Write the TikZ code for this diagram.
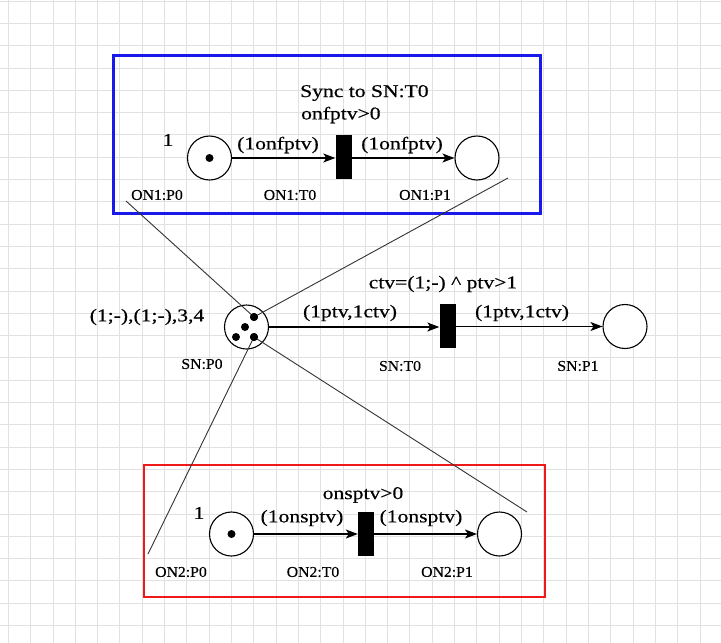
\documentclass[tikz,border=0pt]{standalone}
\usepackage{fontspec}
\setmainfont{Liberation Serif}
\newfontfamily\bigf[FakeStretch=1.2,FakeBold=0.4]{Liberation Serif}
\newfontfamily\smf[FakeStretch=1.05,FakeBold=0.3]{Liberation Serif}
\usetikzlibrary{arrows.meta}
\definecolor{boxblue}{RGB}{25,25,235}
\definecolor{boxred}{RGB}{240,25,25}
\definecolor{gridc}{RGB}{225,225,225}
\tikzset{
  place/.style={circle, draw, line width=1.1pt, minimum size=44pt, inner sep=0pt, fill=white},
  bar/.style={rectangle, fill=black, minimum width=16pt, minimum height=44pt, inner sep=0pt},
  tok/.style={circle, fill=black, minimum size=8pt, inner sep=0pt},
  arc/.style={-{Stealth[length=12pt,width=9pt,inset=3pt]}, line width=1.1pt},
  lbl/.style={font=\bigf\fontsize{18}{20}\selectfont, inner sep=0pt},
  nm/.style={font=\smf\fontsize{15}{17}\selectfont, inner sep=0pt},
  link/.style={line width=0.9pt, draw=black!80},
  gridline/.style={draw=gridc, line width=0.8pt}
}
\begin{document}
\begin{tikzpicture}[x=1pt,y=-1pt]
\useasboundingbox (0,0) rectangle (721,643);
\fill[white] (0,0) rectangle (721,643);
% grid
\foreach \i in {0,...,31} \draw[gridline] ({8.3+22.31*\i},0) -- ++(0,643);
\foreach \j in {0,...,28} \draw[gridline] (0,{1+22.3*\j}) -- ++(721,0);

% boxes
\draw[boxblue, line width=3pt] (113,55) rectangle (540,213);
\draw[boxred, line width=2.5pt] (144,465) rectangle (545,597);

% ---------- ON1 ----------
\node[place] (on1p0) at (209.5,158) {};
\node[tok] (on1k) at (on1p0.center) {};
\node[bar] (on1t0) at (343.5,157) {};
\node[place] (on1p1) at (477,158) {};
\draw[arc] (on1p0.east) -- (on1p0.east -| on1t0.west);
\draw[arc] (on1t0.east |- on1p1.west) -- (on1p1.west);
\node[lbl] (on1c) at (168,140) {1};
\node[lbl, anchor=west] (on1s) at (300,93) {Sync to SN:T0};
\node[lbl, anchor=west] (on1g) at (301,115) {onfptv>0};
\node[lbl] (on1a1) at (278,145) {(1onfptv)};
\node[lbl] (on1a2) at (402,145) {(1onfptv)};
\node[nm] (on1n0) at (157,195) {ON1:P0};
\node[nm] (on1n1) at (290,195) {ON1:T0};
\node[nm] (on1n2) at (425,195) {ON1:P1};

% ---------- SN ----------
\node[place] (snp0) at (246.5,327) {};
\node[bar] (snt0) at (447.5,326) {};
\node[place] (snp1) at (625,326.5) {};
\draw[arc] (snp0.east) -- (snp0.east -| snt0.west);
\draw[arc] (snt0.east |- snp1.west) -- (snp1.west);

\coordinate (ulend) at (126,201);
\coordinate (urend) at (508,178);
\coordinate (dlend) at (148,554);
\coordinate (drend) at (527,512);
\node[tok] (sk1) at (254,317) {};
\node[tok] (sk2) at (245,327) {};
\node[tok] (sk3) at (236,337) {};
\node[tok] (sk4) at (254,337) {};
\draw[link] (sk1.center) -- (ulend);
\draw[link] (sk1.center) -- (urend);
\draw[link] (sk4.center) -- (dlend);
\draw[link] (sk4.center) -- (drend);
\node[tok] at (sk1) {};
\node[tok] at (sk4) {};

\node[lbl] (snm) at (147,317) {(1;-),(1;-),3,4};
\node[lbl] (sng) at (443,284) {ctv=(1;-) \textasciicircum\ ptv>1};
\node[lbl] (sna1) at (350,313) {(1ptv,1ctv)};
\node[lbl] (sna2) at (522,313) {(1ptv,1ctv)};
\node[nm] (snn0) at (202,364) {SN:P0};
\node[nm] (snn1) at (400,366) {SN:T0};
\node[nm] (snn2) at (578,366) {SN:P1};

% ---------- ON2 ----------
\node[place] (on2p0) at (231.5,534) {};
\node[tok] (on2k) at (on2p0.center) {};
\node[bar] (on2t0) at (366,534) {};
\node[place] (on2p1) at (499.5,534) {};
\draw[arc] (on2p0.east) -- (on2p0.east -| on2t0.west);
\draw[arc] (on2t0.east |- on2p1.west) -- (on2p1.west);
\node[lbl] (on2c) at (199,513) {1};
\node[lbl] (on2g) at (363,495) {onsptv>0};
\node[lbl] (on2a1) at (302,518) {(1onsptv)};
\node[lbl] (on2a2) at (421,518) {(1onsptv)};
\node[nm] (on2n0) at (181,572) {ON2:P0};
\node[nm] (on2n1) at (313,572) {ON2:T0};
\node[nm] (on2n2) at (447,572) {ON2:P1};
\end{tikzpicture}
\end{document}
